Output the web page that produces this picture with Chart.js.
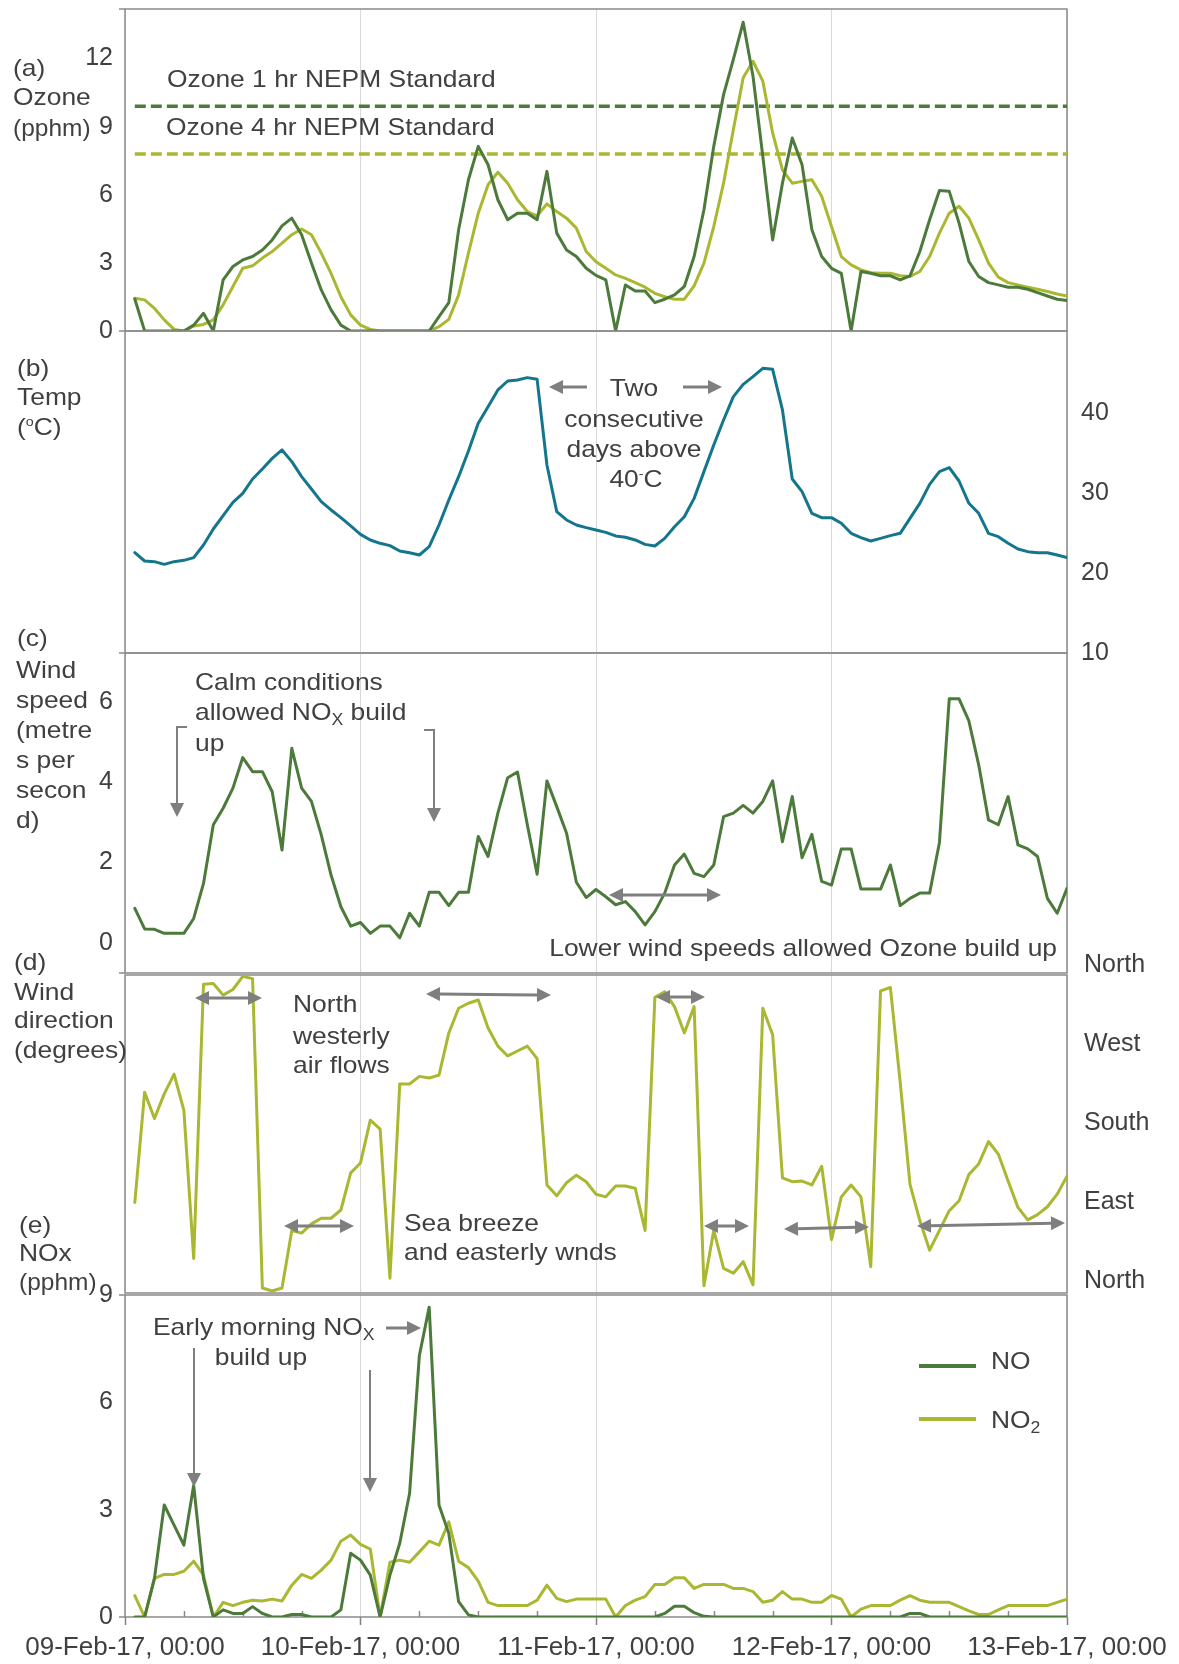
<!DOCTYPE html>
<html>
<head>
<meta charset="utf-8">
<title>Ozone, temperature, wind and NOx, 9-13 Feb 2017</title>
<script src="https://cdn.jsdelivr.net/npm/chart.js@4.4.1/dist/chart.umd.min.js"></script>
<style>
  html, body { margin: 0; background: #fff; }
  #fig { position: relative; width: 1179px; height: 1664px; overflow: hidden;
         font-family: "Liberation Sans", Arial, sans-serif; color: #404040; }
  #fig canvas { position: absolute; left: 0; }
  .note { position: absolute; font-size: 24px; line-height: 30px; white-space: nowrap; }
  .note sub { font-size: 16px; vertical-align: -5px; line-height: 0; }
  .note sup { font-size: 13px; vertical-align: 9px; line-height: 0; }
  .key { position: absolute; height: 4px; }
  #arrows { position: absolute; left: 0; top: 0; }
</style>
</head>
<body>
<div id="fig"></div>
<script>
// hourly readings, 09-Feb-17 01:00 .. 13-Feb-17 00:00
const hours = Array.from({ length: 96 }, (_, i) => i + 1);

// (a) ozone, pphm
const ozone1hr = [1.41,0,0,0,0,0,0.26,0.78,0,2.25,2.84,3.13,3.28,3.57,4.01,4.63,4.97,4.24,2.99,1.81,0.93,0.26,0,0,
  0,0,0,0,0,0,0,0.63,1.25,4.46,6.66,8.13,7.32,5.78,4.9,5.19,5.19,4.9,7.03,4.31,3.57,3.28,2.76,2.45,
  2.25,0,2.03,1.76,1.76,1.25,1.4,1.59,1.96,3.28,5.34,8.13,10.41,11.96,13.6,11.22,7.69,4.01,6.51,8.5,7.32,4.46,3.28,2.76,
  2.54,0,2.62,2.54,2.43,2.43,2.25,2.43,3.5,4.9,6.19,6.15,4.75,3.06,2.4,2.13,2.03,1.93,1.93,1.84,1.69,1.54,1.4,1.34];
const ozone4hr = [1.44,1.37,1.0,0.49,0.07,0,0.22,0.29,0.49,1.15,1.96,2.76,2.87,3.21,3.5,3.87,4.24,4.49,4.24,3.43,2.54,1.51,0.71,0.26,
  0.07,0,0,0,0,0,0,0.19,0.51,1.59,3.43,5.19,6.44,6.99,6.51,5.78,5.26,5.07,5.6,5.26,4.97,4.53,3.5,3.05,
  2.76,2.47,2.32,2.13,1.93,1.66,1.51,1.4,1.4,1.99,2.99,4.6,6.51,8.87,11.15,11.88,11.0,8.72,7.1,6.51,6.59,6.66,5.93,4.6,
  3.28,2.91,2.69,2.57,2.54,2.54,2.43,2.4,2.62,3.28,4.31,5.19,5.49,4.97,4.01,2.99,2.37,2.13,2.03,1.93,1.84,1.74,1.63,1.54];
const nepm1hr = 9.9;
const nepm4hr = 7.8;

// (b) temperature, degC
const temperature = [22.54,21.5,21.42,21.08,21.42,21.58,21.92,23.5,25.5,27.17,28.83,29.96,31.75,33.0,34.33,35.38,33.92,32.04,30.5,28.92,27.88,26.92,25.88,24.83,
  24.13,23.71,23.42,22.75,22.54,22.25,23.29,26.0,29.13,32.04,35.25,38.71,40.79,42.88,44.0,44.13,44.42,44.21,33.5,27.67,26.63,26.0,25.67,25.38,
  25.08,24.63,24.46,24.13,23.58,23.38,24.33,25.79,27.04,29.33,32.67,36.0,39.13,42.04,43.58,44.54,45.58,45.46,40.38,31.75,30.17,27.46,26.92,26.92,
  26.21,24.96,24.42,24.0,24.33,24.67,24.96,26.83,28.71,31.08,32.67,33.17,31.5,28.71,27.46,24.96,24.54,23.71,23.0,22.67,22.54,22.54,22.25,21.92];

// (c) wind speed, m/s
const windSpeed = [0.86,0.35,0.34,0.24,0.24,0.24,0.61,1.48,2.94,3.35,3.85,4.61,4.26,4.26,3.76,2.31,4.84,3.85,3.52,2.69,1.69,0.9,0.42,0.51,
  0.24,0.42,0.42,0.13,0.74,0.42,1.26,1.26,0.93,1.26,1.26,2.65,2.15,3.23,4.11,4.25,2.94,1.71,4.03,3.39,2.73,1.51,1.13,1.33,
  1.15,0.95,1.03,0.78,0.45,0.78,1.24,1.94,2.21,1.73,1.65,1.94,3.14,3.23,3.42,3.23,3.52,4.03,2.52,3.64,2.12,2.7,1.53,1.44,
  2.34,2.34,1.34,1.34,1.34,1.94,0.93,1.11,1.24,1.24,2.5,6.07,6.07,5.52,4.43,3.06,2.94,3.64,2.44,2.34,2.15,1.11,0.74,1.36];

// (d) wind direction, degrees
const windDir = [100.9,226.5,196.5,224.6,247.1,205.9,37.1,349.5,350.3,337.1,343.5,358.5,355.9,3.4,0,3.4,69,66,76.5,82.9,82.9,92.3,134.6,145.9,
  194.6,184.5,14.6,235.9,235.9,244.5,242.6,246,294,322.1,327.8,331.5,299.6,279,267.8,273.4,279,264.8,120.8,108.4,123.4,132,124.5,110.3,
  107.3,119.6,119.6,117,69,334.5,340.9,324,294,324,6,69,25.9,20.3,33.4,7.1,322.1,292.1,129,124.5,125.3,120.8,142.1,58.5,
  107.3,120.8,107.3,27.8,342,345.8,237.8,121.5,80.3,46.5,69,91.5,102.8,132.8,144.8,170.3,156,125.3,95.3,81,87,96,110.3,130.9];

// (e) NOx, pphm
const no = [0,0,1.08,3.13,2.57,2.01,3.68,1.08,0,0.2,0.1,0.1,0.29,0.1,0,0,0.07,0.07,0,0,0,0.2,1.78,1.59,
  1.17,0,1.17,2.06,3.45,7.31,8.66,3.13,2.33,0.43,0.06,0,0,0,0,0,0,0,0,0,0,0,0,0,
  0,0,0,0,0,0,0.1,0.3,0.3,0.12,0.02,0,0,0,0,0,0,0,0,0,0,0,0,0,
  0,0,0,0,0,0,0,0.1,0.1,0,0,0,0,0,0,0,0,0,0,0,0,0,0,0];
const no2 = [0.6,0,1.08,1.19,1.19,1.28,1.56,1.17,0,0.41,0.32,0.41,0.47,0.45,0.5,0.45,0.89,1.19,1.08,1.31,1.59,2.12,2.29,2.03,
  1.9,0,1.53,1.59,1.53,1.82,2.12,2.01,2.66,1.56,1.38,1.0,0.41,0.32,0.32,0.32,0.32,0.47,0.89,0.52,0.43,0.5,0.5,0.5,
  0.5,0,0.32,0.47,0.57,0.91,0.91,1.1,1.1,0.8,0.91,0.91,0.91,0.8,0.8,0.71,0.41,0.47,0.71,0.5,0.5,0.41,0.41,0.6,
  0.5,0,0.22,0.32,0.32,0.32,0.47,0.6,0.47,0.41,0.41,0.41,0.29,0.17,0.07,0.07,0.2,0.32,0.32,0.32,0.32,0.32,0.41,0.5];

// axes
const dayTicks = [0, 24, 48, 72, 96];
const xTickLabels = ['09-Feb-17, 00:00', '10-Feb-17, 00:00', '11-Feb-17, 00:00', '12-Feb-17, 00:00', '13-Feb-17, 00:00'];
const ozoneTicks = [0, 3, 6, 9, 12];
const tempTicks = [10, 20, 30, 40];
const windTicks = [0, 2, 4, 6];
const dirTicks = [0, 90, 180, 270, 360];
const dirTickLabels = ['North', 'East', 'South', 'West', 'North'];
const noxTicks = [0, 3, 6, 9];
const noxNames = ['NO', 'NO<sub>2</sub>'];

const FONT = "'Liberation Sans', Arial, sans-serif";
const TXT = '#404040';
const DARK = '#4c7a3a', LIGHT = '#aab731', TEAL = '#14768c', ARROW = '#7f7f7f';
const W = 1179, H = 1664, PLOT_L = 125, PLOT_R = 1067, PAD = 30;

const fig = document.getElementById('fig');

function series(values, color, label) {
  return {
    label, data: values.map((v, i) => ({ x: hours[i], y: v })),
    borderColor: color, borderWidth: 3, pointRadius: 0, tension: 0,
    borderJoinStyle: 'round', borderCapStyle: 'round', fill: false
  };
}
function standardLine(value, color, label) {
  return {
    label, data: [{ x: hours[0], y: value }, { x: hours[hours.length - 1], y: value }],
    borderColor: color, borderWidth: 3.5, borderDash: [11, 5], pointRadius: 0, fill: false
  };
}

// panel outline, left edge ticks and the 6-hourly minor ticks
const framePlugin = {
  id: 'frame',
  beforeDatasetsDraw(chart, args, opts) {
    const { ctx, chartArea: a } = chart;
    ctx.save();
    ctx.strokeStyle = '#8a8a8a';
    ctx.lineWidth = 1.5;
    ctx.strokeRect(a.left, a.top, a.right - a.left, a.bottom - a.top);
    ctx.beginPath();
    if (opts.edgeTicks) {
      ctx.moveTo(a.left - 6, a.top); ctx.lineTo(a.left, a.top);
      ctx.moveTo(a.left - 6, a.bottom); ctx.lineTo(a.left, a.bottom);
    }
    if (opts.minorTicks) {
      const xs = chart.scales.x;
      for (let h = 6; h < 96; h += 6) {
        if (h % 24 === 0) continue;
        const px = Math.round(xs.getPixelForValue(h)) + 0.5;
        ctx.moveTo(px, a.bottom); ctx.lineTo(px, a.bottom - 6);
      }
    }
    ctx.stroke();
    ctx.restore();
  }
};

function makePanel(cfg) {
  const bottomAxis = !!cfg.xLabels;
  const left = cfg.side === 'left';
  const canvasTop = cfg.top - PAD;
  const cv = document.createElement('canvas');
  cv.width = W;
  cv.height = (bottomAxis ? H : cfg.bottom + PAD) - canvasTop;
  cv.style.top = canvasTop + 'px';
  fig.appendChild(cv);

  return new Chart(cv, {
    type: 'line',
    data: { datasets: cfg.datasets },
    plugins: [framePlugin],
    options: {
      responsive: false,
      animation: false,
      layout: { padding: { top: PAD, bottom: bottomAxis ? 0 : PAD, left: left ? 0 : PLOT_L, right: left ? W - PLOT_R : 0 } },
      plugins: {
        legend: { display: false },
        tooltip: { enabled: false },
        frame: { edgeTicks: left, minorTicks: bottomAxis }
      },
      scales: {
        x: {
          type: 'linear', min: 0, max: 96,
          afterBuildTicks: s => { s.ticks = dayTicks.map(v => ({ value: v })); },
          afterFit: s => { s.height = bottomAxis ? H - cfg.bottom : 0; },
          border: { display: false },
          grid: { color: '#d9d9d9', lineWidth: 1, drawTicks: bottomAxis, tickLength: 8, tickColor: '#808080', tickWidth: 1.5 },
          ticks: {
            display: bottomAxis, autoSkip: false, maxRotation: 0, padding: 7,
            color: TXT, font: { family: FONT, size: 26 },
            callback: (v, i) => xTickLabels[i]
          }
        },
        y: {
          position: cfg.side, min: cfg.min, max: cfg.max,
          afterBuildTicks: s => { s.ticks = cfg.ticks.map(v => ({ value: v })); },
          afterFit: s => { s.width = left ? PLOT_L : W - PLOT_R; },
          border: { display: false },
          grid: { display: false, drawTicks: false },
          ticks: {
            autoSkip: false, padding: cfg.tickPad, labelOffset: cfg.labelOffset || 0,
            color: TXT, font: { family: FONT, size: 25 },
            callback: cfg.tickLabel || (v => String(v))
          }
        }
      }
    }
  });
}

makePanel({
  top: 9, bottom: 331, side: 'left', min: 0, max: 14.18, ticks: ozoneTicks, tickPad: 12,
  datasets: [series(ozone1hr, DARK, 'Ozone 1 hr'), series(ozone4hr, LIGHT, 'Ozone 4 hr'),
             standardLine(nepm1hr, DARK, 'Ozone 1 hr NEPM Standard'), standardLine(nepm4hr, LIGHT, 'Ozone 4 hr NEPM Standard')]
});
makePanel({
  top: 331, bottom: 653, side: 'right', min: 10, max: 50.25, ticks: tempTicks, tickPad: 14,
  datasets: [series(temperature, TEAL, 'Temp')]
});
makePanel({
  top: 653, bottom: 973, side: 'left', min: -0.746, max: 7.21, ticks: windTicks, tickPad: 12,
  datasets: [series(windSpeed, DARK, 'Wind speed')]
});
makePanel({
  top: 973, bottom: 1295, side: 'right', min: -2.25, max: 360, ticks: dirTicks, tickPad: 17, labelOffset: -10,
  tickLabel: (v, i) => dirTickLabels[i],
  datasets: [series(windDir, LIGHT, 'Wind direction')]
});
const noxChart = makePanel({
  top: 1295, bottom: 1617, side: 'left', min: 0, max: 9, ticks: noxTicks, tickPad: 12, xLabels: true,
  datasets: [series(no, DARK, 'NO'), series(no2, LIGHT, 'NO2')]
});

// text on the figure
const notes = [
  { t: '(a)', x: 13, y: 68 }, { t: 'Ozone', x: 13, y: 97 }, { t: '(pphm)', x: 13, y: 128, s: 1.02 },
  { t: 'Ozone 1 hr NEPM Standard', x: 167, y: 79 },
  { t: 'Ozone 4 hr NEPM Standard', x: 166, y: 127 },
  { t: '(b)', x: 17, y: 368 }, { t: 'Temp', x: 17, y: 397 }, { t: '(<sup>o</sup>C)', x: 17, y: 427 },
  { t: 'Two', x: 634, y: 388, a: 'c' }, { t: 'consecutive', x: 634, y: 419, a: 'c' },
  { t: 'days above', x: 634, y: 449, a: 'c' }, { t: '40<sup>-</sup>C', x: 636, y: 479, a: 'c' },
  { t: '(c)', x: 17, y: 638 }, { t: 'Wind', x: 16, y: 670 }, { t: 'speed', x: 16, y: 700 },
  { t: '(metre', x: 16, y: 730 }, { t: 's per', x: 16, y: 760 }, { t: 'secon', x: 16, y: 790 }, { t: 'd)', x: 16, y: 820 },
  { t: 'Calm conditions', x: 195, y: 682 }, { t: 'allowed NO<sub>X</sub> build', x: 195, y: 712 }, { t: 'up', x: 195, y: 743 },
  { t: 'Lower wind speeds allowed Ozone build up', x: 1057, y: 948, a: 'r' },
  { t: '(d)', x: 14, y: 962 }, { t: 'Wind', x: 14, y: 992 }, { t: 'direction', x: 14, y: 1020 }, { t: '(degrees)', x: 14, y: 1050 },
  { t: 'North', x: 293, y: 1004 }, { t: 'westerly', x: 293, y: 1036 }, { t: 'air flows', x: 293, y: 1065 },
  { t: 'Sea breeze', x: 404, y: 1223 }, { t: 'and easterly wnds', x: 404, y: 1252 },
  { t: '(e)', x: 19, y: 1225 }, { t: 'NOx', x: 19, y: 1253 }, { t: '(pphm)', x: 19, y: 1282, s: 1.02 },
  { t: 'Early morning NO<sub>X</sub>', x: 153, y: 1327 }, { t: 'build up', x: 261, y: 1357, a: 'c' },
  { t: noxNames[0], x: 991, y: 1361 }, { t: noxNames[1], x: 991, y: 1420 }
];
for (const n of notes) {
  const d = document.createElement('div');
  const sx = `scaleX(${n.s || 1.1})`;
  d.className = 'note';
  d.innerHTML = n.t;
  d.style.left = n.x + 'px';
  d.style.top = (n.y - 15) + 'px';
  if (n.a === 'c') { d.style.transform = 'translateX(-50%) ' + sx; d.style.transformOrigin = '50% 50%'; }
  else if (n.a === 'r') { d.style.transform = 'translateX(-100%) ' + sx; d.style.transformOrigin = '100% 50%'; }
  else { d.style.transform = sx; d.style.transformOrigin = '0 50%'; }
  fig.appendChild(d);
}

// legend keys for panel (e), coloured from the chart's own datasets
[[1364, 0], [1417, 1]].forEach(([y, i]) => {
  const k = document.createElement('div');
  k.className = 'key';
  k.style.left = '919px'; k.style.width = '57px'; k.style.top = y + 'px';
  k.style.background = noxChart.data.datasets[i].borderColor;
  fig.appendChild(k);
});

// grey annotation arrows
const arrows = [
  { p: [[587, 387], [549, 387]], w: 3, end: true },
  { p: [[683, 387], [722, 387]], w: 3, end: true },
  { p: [[187, 727], [177, 727], [177, 817]], w: 2, end: true },
  { p: [[424, 730], [434, 730], [434, 822]], w: 2, end: true },
  { p: [[609, 895], [721, 895]], w: 3, start: true, end: true },
  { p: [[195, 998], [262, 998]], w: 3, start: true, end: true },
  { p: [[426, 994], [551, 995]], w: 3, start: true, end: true },
  { p: [[284, 1226], [354, 1226]], w: 3, start: true, end: true },
  { p: [[656, 997], [705, 997]], w: 3, start: true, end: true },
  { p: [[704, 1226], [749, 1226]], w: 3, start: true, end: true },
  { p: [[784, 1229], [869, 1227]], w: 3, start: true, end: true },
  { p: [[917, 1226], [1065, 1223]], w: 3, start: true, end: true },
  { p: [[386, 1328], [421, 1328]], w: 3, end: true },
  { p: [[194, 1348], [194, 1487]], w: 2, end: true },
  { p: [[370, 1370], [370, 1492]], w: 2, end: true }
];
const NS = 'http://www.w3.org/2000/svg';
const svg = document.createElementNS(NS, 'svg');
svg.setAttribute('id', 'arrows');
svg.setAttribute('width', W); svg.setAttribute('height', H);
fig.appendChild(svg);

function head(from, tip, len, half) {
  const dx = tip[0] - from[0], dy = tip[1] - from[1], d = Math.hypot(dx, dy);
  const ux = dx / d, uy = dy / d;
  const bx = tip[0] - ux * len, by = tip[1] - uy * len;
  const poly = document.createElementNS(NS, 'polygon');
  poly.setAttribute('points', `${tip[0]},${tip[1]} ${bx - uy * half},${by + ux * half} ${bx + uy * half},${by - ux * half}`);
  poly.setAttribute('fill', ARROW);
  svg.appendChild(poly);
  return [bx + ux, by + uy];
}
for (const a of arrows) {
  const pts = a.p.map(q => q.slice());
  const n = pts.length;
  if (a.end) pts[n - 1] = head(pts[n - 2], pts[n - 1], 14, 7);
  if (a.start) pts[0] = head(pts[1], pts[0], 14, 7);
  const line = document.createElementNS(NS, 'polyline');
  line.setAttribute('points', pts.map(q => q.join(',')).join(' '));
  line.setAttribute('fill', 'none');
  line.setAttribute('stroke', ARROW);
  line.setAttribute('stroke-width', a.w);
  svg.appendChild(line);
}
</script>
</body>
</html>
